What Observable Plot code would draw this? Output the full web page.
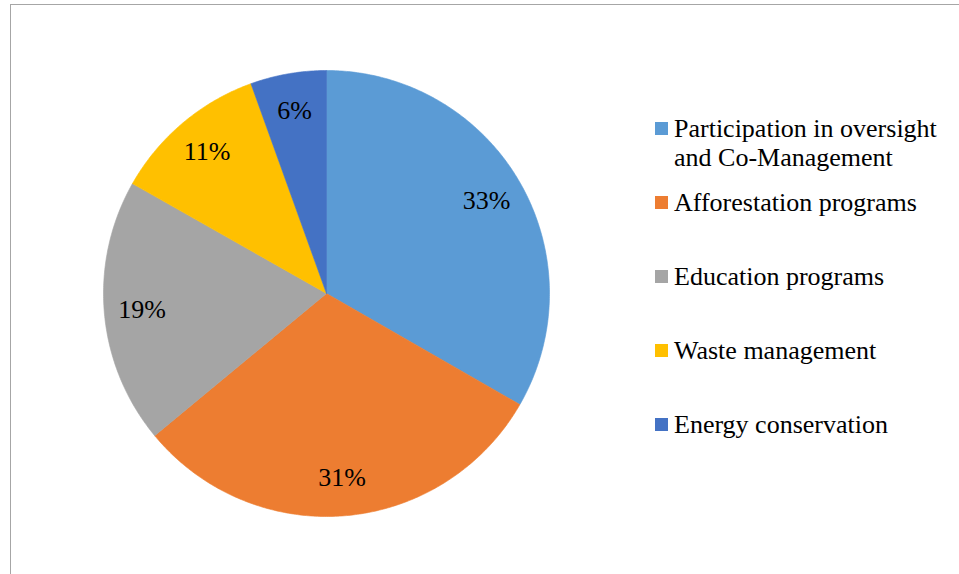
<!DOCTYPE html>
<html>
<head>
<meta charset="utf-8">
<script src="https://cdn.jsdelivr.net/npm/d3@7"></script>
<script src="https://cdn.jsdelivr.net/npm/@observablehq/plot@0.6"></script>
<style>
  html, body { margin: 0; padding: 0; background: #fff; }
  #wrap { position: relative; width: 959px; height: 574px; overflow: hidden; font-family: 'Liberation Serif', serif; }
  #frame { position: absolute; left: 10px; top: 4px; width: 2000px; height: 2000px; border-left: 1.5px solid #a6a6a6; border-top: 1.5px solid #a6a6a6; box-sizing: border-box; }
  #chart { position: absolute; left: 0; top: 0; }
  #legend { position: absolute; left: 655px; top: 114px; font-size: 26px; line-height: 29px; color: #000; font-family: 'Liberation Serif', serif; }
  #legend div { font-family: 'Liberation Serif', serif; }
  .item { display: flex; align-items: flex-start; }
  .sw { width: 13px; height: 13px; margin-top: 8px; margin-right: 6px; flex: none; }
  #chart svg text { font-family: 'Liberation Serif', serif !important; }
</style>
</head>
<body>
<div id="wrap">
  <div id="frame"></div>
  <div id="chart"></div>
  <div id="legend"></div>
</div>
<script>
const categories = [
  "Participation in oversight and Co-Management",
  "Afforestation programs",
  "Education programs",
  "Waste management",
  "Energy conservation"
];
const legendLabels = [
  ["Participation in oversight", "and Co-Management"],
  ["Afforestation programs"],
  ["Education programs"],
  ["Waste management"],
  ["Energy conservation"]
];
const values = [33.3, 30.7, 19.2, 11.3, 5.5];
const colors = ["#5B9BD5", "#ED7D31", "#A5A5A5", "#FFC000", "#4472C4"];

const total = d3.sum(values);
const slices = [];
let acc = 0;
values.forEach((v, i) => {
  const a0 = acc / total * 2 * Math.PI;
  acc += v;
  const a1 = acc / total * 2 * Math.PI;
  slices.push({cat: categories[i], value: v, a0, a1, mid: (a0 + a1) / 2});
});

// polygon points for each slice (centre + sampled arc), angle clockwise from top
const pts = [];
slices.forEach(s => {
  pts.push({cat: s.cat, x: 0, y: 0});
  const n = Math.max(4, Math.ceil((s.a1 - s.a0) / 0.01));
  for (let k = 0; k <= n; k++) {
    const a = s.a0 + (s.a1 - s.a0) * k / n;
    pts.push({cat: s.cat, x: Math.sin(a), y: Math.cos(a)});
  }
  pts.push({cat: s.cat, x: 0, y: 0});
});

const labelR = 0.83;
const labels = slices.map(s => ({
  x: labelR * Math.sin(s.mid),
  y: labelR * Math.cos(s.mid),
  text: Math.round(s.value) + "%"
}));

const chart = Plot.plot({
  width: 959,
  height: 574,
  marginLeft: 103,
  marginRight: 410,
  marginTop: 70,
  marginBottom: 58,
  x: {domain: [-1, 1], axis: null},
  y: {domain: [-1, 1], axis: null},
  color: {domain: categories, range: colors},
  style: {background: "transparent", overflow: "visible", fontFamily: "'Liberation Serif', serif"},
  marks: [
    Plot.line(pts, {x: "x", y: "y", z: "cat", fill: "cat", stroke: "cat", strokeWidth: 0.6, curve: "linear"}),
    Plot.text(labels, {x: "x", y: "y", text: "text", fontSize: 26, fontFamily: "'Liberation Serif', serif", fill: "#000"})
  ]
});
document.getElementById("chart").appendChild(chart);

const legend = document.getElementById("legend");
legendLabels.forEach((lines, i) => {
  const item = document.createElement("div");
  item.className = "item";
  if (i === 1) item.style.marginTop = "16px";
  else if (i > 1) item.style.marginTop = "45px";
  const sw = document.createElement("div");
  sw.className = "sw";
  sw.style.background = colors[i];
  const txt = document.createElement("div");
  txt.style.fontFamily = "'Liberation Serif', serif";
  txt.innerHTML = lines.join("<br>");
  item.appendChild(sw);
  item.appendChild(txt);
  legend.appendChild(item);
});
</script>
</body>
</html>
